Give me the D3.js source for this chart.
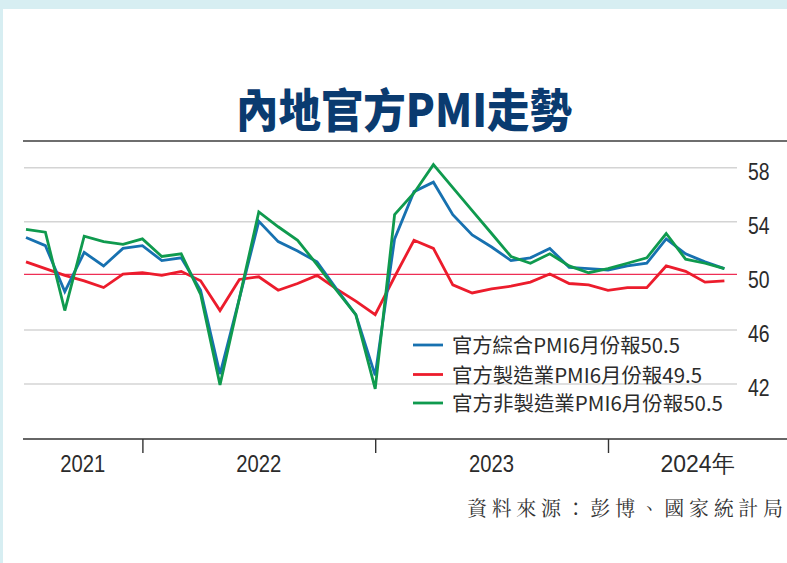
<!DOCTYPE html>
<html>
<head>
<meta charset="utf-8">
<script src="https://cdn.jsdelivr.net/npm/d3@7"></script>
<style>
  body { margin: 0; background: #fff; }
  svg { display: block; }
</style>
</head>
<body>
<svg width="787" height="563"></svg>
<script>
// months Jun 2021 .. Jun 2024
var months = [
  "2021-06","2021-07","2021-08","2021-09","2021-10","2021-11","2021-12",
  "2022-01","2022-02","2022-03","2022-04","2022-05","2022-06","2022-07","2022-08","2022-09","2022-10","2022-11","2022-12",
  "2023-01","2023-02","2023-03","2023-04","2023-05","2023-06","2023-07","2023-08","2023-09","2023-10","2023-11","2023-12",
  "2024-01","2024-02","2024-03","2024-04","2024-05","2024-06"
]

var composite = [52.8, 52.2, 48.8, 51.7, 50.7, 52.0, 52.2, 51.1, 51.3, 48.9, 42.7, 48.3, 54.0, 52.5, 51.8, 51.0, 49.0, 47.1, 42.6,
  52.7, 56.2, 56.9, 54.5, 53.0, 52.1, 51.1, 51.3, 52.0, 50.6, 50.5, 50.4, 50.7, 50.9, 52.7, 51.6, 51.0, 50.5]
var manufacturing = [51.0, 50.5, 50.0, 49.6, 49.1, 50.1, 50.2, 50.0, 50.3, 49.6, 47.4, 49.7, 49.9, 48.9, 49.4, 50.0, 49.0, 48.1, 47.1,
  49.9, 52.6, 52.0, 49.3, 48.7, 49.0, 49.2, 49.5, 50.1, 49.4, 49.3, 48.9, 49.1, 49.1, 50.7, 50.3, 49.5, 49.6]
var nonManufacturing = [53.4, 53.2, 47.4, 52.9, 52.5, 52.3, 52.7, 51.4, 51.6, 48.6, 41.9, 48.3, 54.7, 53.6, 52.6, 50.8, 48.9, 47.1, 41.6,
  54.5, 56.1, 58.2, 56.5, 54.8, 53.1, 51.4, 50.9, 51.6, 50.7, 50.2, 50.5, 50.9, 51.3, 53.1, 51.2, 50.9, 50.5]

var yTicks = [42, 46, 50, 54, 58]
var yearTicks = ["2021-12", "2022-12", "2023-12"]
var yearLabels = ["2021", "2022", "2023", "2024年"]
var legendLabels = ["官方綜合PMI6月份報50.5", "官方製造業PMI6月份報49.5", "官方非製造業PMI6月份報50.5"]

var svg = d3.select("svg"),
    width = +svg.attr("width"),
    height = +svg.attr("height");

var cjk = "'Noto Sans CJK TC','Noto Sans CJK SC',sans-serif"
var narrow = "'Liberation Sans Narrow','Arial Narrow','Liberation Sans',sans-serif"

// background + white panel
svg.append("rect").attr("width", width).attr("height", height).attr("fill", "#d7eef2")
svg.append("rect").attr("x", 3).attr("y", 9).attr("width", width - 3).attr("height", height - 9).attr("fill", "#fff")

// title
svg.append("text")
    .attr("x", 404).attr("y", 127)
    .attr("text-anchor", "middle")
    .attr("textLength", 336).attr("lengthAdjust", "spacingAndGlyphs")
    .style("font-family", cjk).style("font-weight", 900).style("font-size", "46px")
    .attr("fill", "#0a3b70")
    .text("內地官方PMI走勢")

svg.append("line")
    .attr("x1", 23).attr("x2", width).attr("y1", 141).attr("y2", 141)
    .attr("stroke", "#6e6e6e").attr("stroke-width", 2)

var x = d3.scalePoint().domain(months).range([26, 724.4])
var y = d3.scaleLinear().domain([42, 58]).range([383.5, 167.3])

var gridRight = 737, gridLeft = 24

// gridlines
svg.append("g")
    .attr("transform", "translate(" + gridRight + ",0)")
    .call(d3.axisLeft(y).tickValues(yTicks.filter(d => d != 50)).tickSize(gridRight - gridLeft).tickFormat(""))
    .call(g => g.select(".domain").remove())
    .call(g => g.selectAll("line").attr("stroke", "#d4d4d4").attr("stroke-width", 1.5))

// 50 line
svg.append("line")
    .attr("x1", gridLeft).attr("x2", gridRight)
    .attr("y1", y(50) - 1).attr("y2", y(50) - 1)
    .attr("stroke", "#ee2e55").attr("stroke-width", 1.3)

// y labels on right (condensed)
svg.append("g")
    .attr("transform", "translate(" + gridRight + ",0)")
    .call(d3.axisRight(y).tickValues(yTicks).tickSize(0).tickPadding(11))
    .call(g => g.select(".domain").remove())
    .call(g => g.selectAll("text")
        .attr("dy", "0.68em").attr("y", -4)
        .attr("textLength", 21.6).attr("lengthAdjust", "spacingAndGlyphs")
        .style("font-family", narrow).style("font-size", "24px").attr("fill", "#2b2b2b"))

// x axis
var axisY = 439
svg.append("line")
    .attr("x1", 23).attr("x2", width).attr("y1", axisY).attr("y2", axisY)
    .attr("stroke", "#333").attr("stroke-width", 1.6)
svg.append("g")
    .attr("transform", "translate(0," + axisY + ")")
    .call(d3.axisBottom(x).tickValues(yearTicks).tickSize(14).tickFormat(""))
    .call(g => g.select(".domain").remove())
    .call(g => g.selectAll("line").attr("stroke", "#333").attr("stroke-width", 1.4))

var bounds = [x(months[0]) - 3].concat(yearTicks.map(x)).concat([width])
svg.append("g").selectAll("text")
    .data(yearLabels)
    .enter().append("text")
    .attr("x", (d, i) => (bounds[i] + bounds[i + 1]) / 2)
    .attr("y", 472)
    .attr("text-anchor", "middle")
    .attr("textLength", d => d.length > 4 ? 74 : 45).attr("lengthAdjust", "spacingAndGlyphs")
    .style("font-family", narrow).style("font-size", "24px")
    .attr("fill", "#2b2b2b")
    .text(d => d)

// series
var series = [
    { name: legendLabels[1], values: manufacturing, color: "#ec1c2c" },
    { name: legendLabels[0], values: composite, color: "#1771b0" },
    { name: legendLabels[2], values: nonManufacturing, color: "#0f9a4e" }
]

var line = d3.line()
    .x((d, i) => x(months[i]))
    .y(d => y(d))

svg.append("g")
    .selectAll("path")
    .data(series)
    .enter().append("path")
    .attr("fill", "none")
    .attr("stroke", d => d.color)
    .attr("stroke-width", 2.8)
    .attr("stroke-linejoin", "miter")
    .attr("d", d => line(d.values))

// legend
var legendOrder = [series[1], series[0], series[2]]
var legendRowY = [345, 374.5, 403]
var legendWidths = [228, 250, 271]
var leg = svg.append("g")
leg.selectAll("line")
    .data(legendOrder)
    .enter().append("line")
    .attr("x1", 413).attr("x2", 443)
    .attr("y1", (d, i) => legendRowY[i]).attr("y2", (d, i) => legendRowY[i])
    .attr("stroke", d => d.color).attr("stroke-width", 2.8)
leg.selectAll("text")
    .data(legendOrder)
    .enter().append("text")
    .attr("x", 452)
    .attr("y", (d, i) => legendRowY[i] + 8)
    .attr("textLength", (d, i) => legendWidths[i]).attr("lengthAdjust", "spacingAndGlyphs")
    .style("font-family", cjk).style("font-size", "20px")
    .attr("fill", "#2b2b2b")
    .text(d => d.name)

// source
svg.append("text")
    .attr("x", 467).attr("y", 516)
    .attr("textLength", 316).attr("lengthAdjust", "spacing")
    .style("font-family", "'Noto Serif CJK TC'," + cjk).style("font-size", "20px")
    .attr("fill", "#333")
    .text("資料來源：彭博、國家統計局")
</script>
</body>
</html>
